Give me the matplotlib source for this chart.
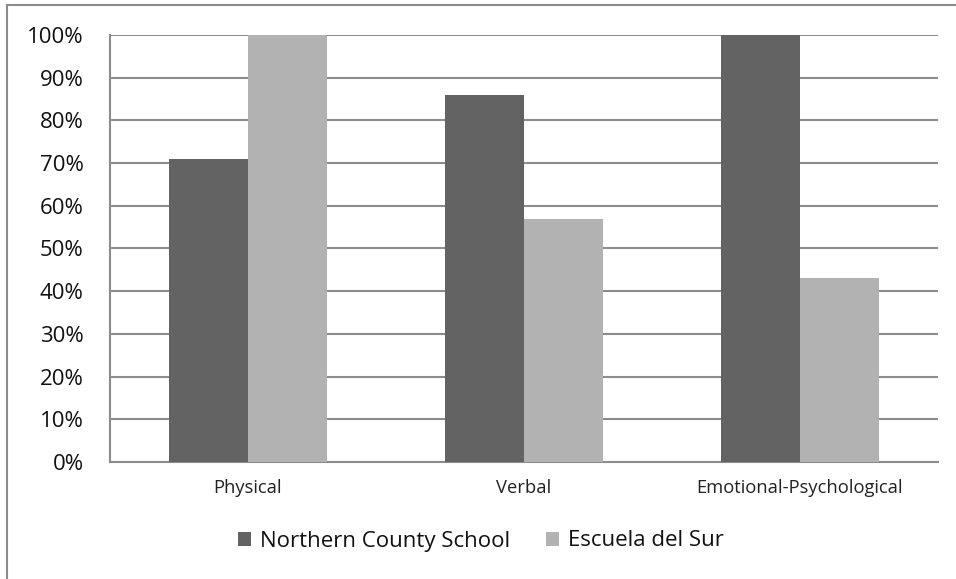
import matplotlib
matplotlib.use("Agg")
import matplotlib.pyplot as plt
import numpy as np
from matplotlib.ticker import FuncFormatter

categories = ["Physical", "Verbal", "Emotional-Psychological"]
series_names = ["Northern County School", "Escuela del Sur"]
northern = [71, 86, 100]
sur = [100, 57, 43]
yticks = [0, 10, 20, 30, 40, 50, 60, 70, 80, 90, 100]

dark = "#636363"
light = "#b2b2b2"
grid_c = "#8c8c8c"

plt.rcParams['font.family'] = ['Open Sans', 'DejaVu Sans']

W, H = 956, 579
fig = plt.figure(figsize=(W / 100, H / 100), dpi=100)

# outer frame (left + top)
fig.add_artist(plt.Line2D([7 / W, 7 / W], [0, 1 - 5 / H], transform=fig.transFigure, color="#8c8c8c", lw=1.5))
fig.add_artist(plt.Line2D([7 / W, 1], [1 - 5 / H, 1 - 5 / H], transform=fig.transFigure, color="#8c8c8c", lw=1.5))

ax = fig.add_axes([110 / W, 1 - 462 / H, (938 - 110) / W, (462 - 35) / H])
x = np.arange(len(categories))
bw = 0.286
ax.bar(x - bw / 2, northern, bw, color=dark, label=series_names[0], zorder=3)
ax.bar(x + bw / 2, sur, bw, color=light, label=series_names[1], zorder=3)

ax.set_xlim(-0.5, len(categories) - 0.5)
ax.set_ylim(0, 100)
ax.set_yticks(yticks)
ax.yaxis.set_major_formatter(FuncFormatter(lambda v, p: f"{int(v)}%"))
ax.yaxis.grid(True, color=grid_c, lw=1.5, zorder=0)
ax.set_axisbelow(True)
ax.set_xticks(x)
ax.set_xticklabels(categories, fontsize=13.2, color="#222222")
ax.tick_params(axis="y", length=0, pad=19, labelsize=16, labelcolor="#111111")
ax.tick_params(axis="x", length=0, pad=12)
for s in ["top", "right"]:
    ax.spines[s].set_visible(False)
for s in ["left", "bottom"]:
    ax.spines[s].set_color(grid_c)
    ax.spines[s].set_linewidth(1.5)

leg = fig.legend(loc="center", bbox_to_anchor=(481 / W, 1 - 541 / H), ncol=2, frameon=False,
                 fontsize=16, handlelength=0.6, handleheight=0.6, handletextpad=0.4,
                 columnspacing=1.6)
for t in leg.get_texts():
    t.set_color("#111111")

fig.savefig("out.png", dpi=100)
